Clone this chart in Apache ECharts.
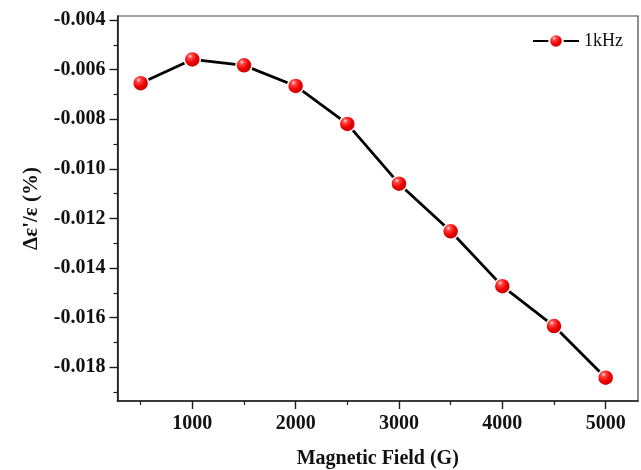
<!DOCTYPE html>
<html>
<head>
<meta charset="utf-8">
<script src="https://cdn.jsdelivr.net/npm/echarts@6/dist/echarts.min.js"></script>
<style>
  html, body { margin: 0; padding: 0; background: #fff; }
  #chart { width: 641px; height: 470px; }
</style>
</head>
<body>
<div id="chart"></div>
<script>
// Magnetic field (G) and the relative change of the real permittivity (%)
const fieldG = [500, 1000, 1500, 2000, 2500, 3000, 3500, 4000, 4500, 5000];
const deltaEps1kHz = [-0.00655, -0.00559, -0.00583, -0.00666, -0.00819, -0.01060, -0.01252, -0.01473, -0.01634, -0.01842];

// Axis ticks
const xMajorTicks = [1000, 2000, 3000, 4000, 5000];
const xMinorTicks = [500, 1500, 2500, 3500, 4500];
const yMajorTicks = [-0.018, -0.016, -0.014, -0.012, -0.010, -0.008, -0.006, -0.004];
const yMinorTicks = [-0.019, -0.017, -0.015, -0.013, -0.011, -0.009, -0.007, -0.005];

const X_MIN = 276, X_MAX = 5313;
const Y_MIN = -0.01936, Y_MAX = -0.00384;

const serif = '"Liberation Serif", "Times New Roman", Times, serif';
const axisColor = '#1a1a1a';

const sphere = {
  type: 'radial', x: 0.38, y: 0.32, r: 0.7,
  colorStops: [
    { offset: 0, color: '#ffe6e6' },
    { offset: 0.18, color: '#ff4a4a' },
    { offset: 0.55, color: '#f00000' },
    { offset: 1, color: '#b80000' }
  ]
};

const chart = echarts.init(document.getElementById('chart'), null, { renderer: 'canvas' });

chart.setOption({
  animation: false,
  backgroundColor: '#ffffff',
  grid: {
    left: 117.5, top: 16, right: 3, bottom: 69,
    outerBoundsMode: 'none', containLabel: false,
    show: true, borderColor: '#444', borderWidth: 1.2, backgroundColor: 'transparent'
  },
  legend: {
    right: 13, top: 27,
    itemWidth: 46, itemHeight: 17, itemGap: 4,
    textStyle: { fontFamily: serif, fontSize: 18, color: '#111' },
    data: ['1kHz']
  },
  xAxis: [
    {
      type: 'value', min: X_MIN, max: X_MAX, position: 'bottom',
      name: 'Magnetic Field (G)', nameLocation: 'middle', nameGap: 48,
      nameTextStyle: { fontFamily: serif, fontSize: 20, fontWeight: 'bold', color: '#111' },
      axisLine: { show: true, onZero: false, lineStyle: { color: axisColor, width: 1.6 } },
      axisTick: { show: true, customValues: xMajorTicks, length: 8, lineStyle: { color: axisColor, width: 1.4 } },
      axisLabel: {
        customValues: xMajorTicks, margin: 13,
        formatter: v => String(v),
        fontFamily: serif, fontSize: 20, fontWeight: 'bold', color: '#111'
      },
      splitLine: { show: false }
    },
    {
      type: 'value', min: X_MIN, max: X_MAX, position: 'bottom',
      axisLine: { show: false, onZero: false },
      axisTick: { show: true, customValues: xMinorTicks, length: 4, lineStyle: { color: axisColor, width: 1.2 } },
      axisLabel: { show: false },
      splitLine: { show: false }
    }
  ],
  yAxis: [
    {
      type: 'value', min: Y_MIN, max: Y_MAX, position: 'left',
      name: "Δε'/ε (%)", nameLocation: 'middle', nameGap: 75, nameRotate: 90,
      nameTextStyle: { fontFamily: serif, fontSize: 21, fontWeight: 'bold', color: '#111' },
      axisLine: { show: true, onZero: false, lineStyle: { color: axisColor, width: 1.6 } },
      axisTick: { show: true, customValues: yMajorTicks, length: 8, lineStyle: { color: axisColor, width: 1.4 } },
      axisLabel: {
        customValues: yMajorTicks, margin: 12,
        formatter: v => v.toFixed(3),
        fontFamily: serif, fontSize: 20, fontWeight: 'bold', color: '#111'
      },
      splitLine: { show: false }
    },
    {
      type: 'value', min: Y_MIN, max: Y_MAX, position: 'left', offset: 0,
      axisLine: { show: false, onZero: false },
      axisTick: { show: true, customValues: yMinorTicks, length: 4, lineStyle: { color: axisColor, width: 1.2 } },
      axisLabel: { show: false },
      splitLine: { show: false }
    }
  ],
  series: [
    {
      name: '1kHz',
      type: 'line',
      xAxisIndex: 0, yAxisIndex: 0,
      data: fieldG.map((f, i) => [f, deltaEps1kHz[i]]),
      symbol: 'circle',
      symbolSize: 16,
      lineStyle: { color: '#000', width: 2.8 },
      itemStyle: { color: sphere, borderColor: '#fff', borderWidth: 1.5 },
      z: 3
    }
  ]
});
</script>
</body>
</html>
